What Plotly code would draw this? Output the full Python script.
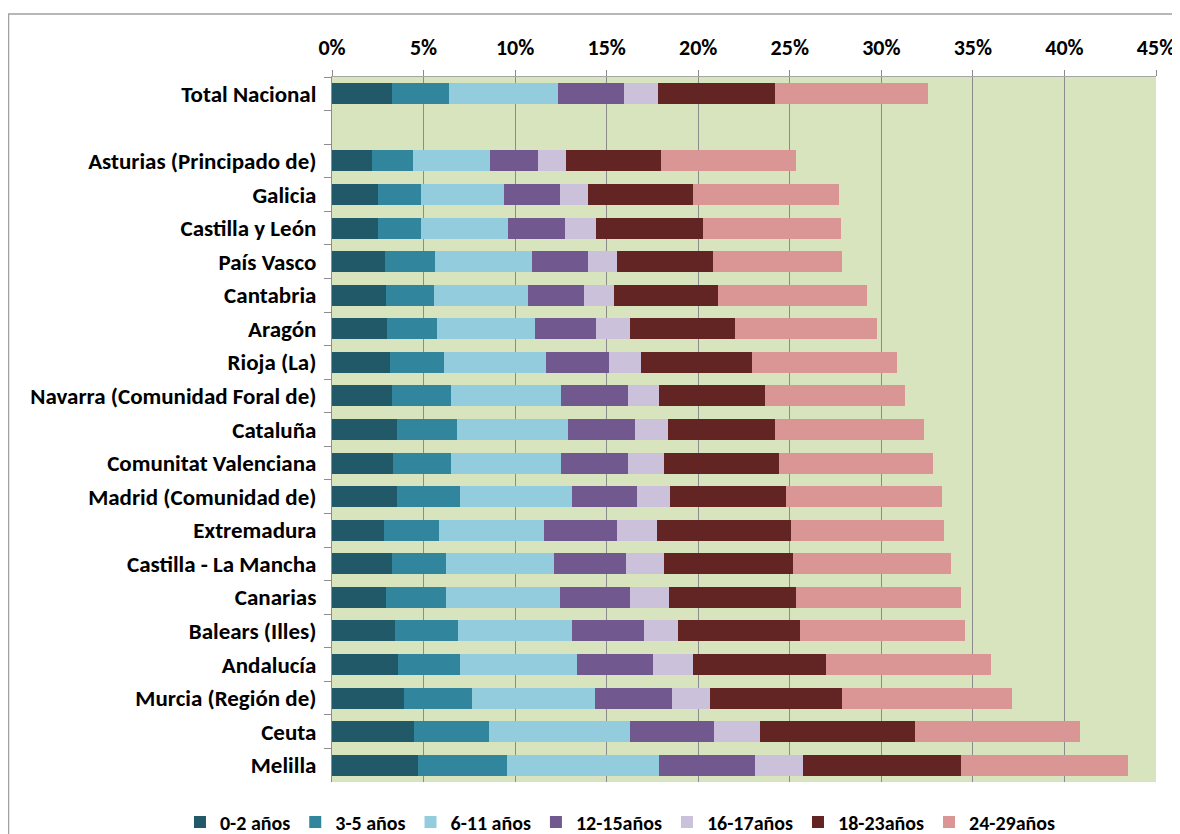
import plotly.graph_objects as go

# regions top to bottom; the blank entry is the empty row under the national total
regions = ["Total Nacional", " ", "Asturias (Principado de)", "Galicia", "Castilla y León",
           "País Vasco", "Cantabria", "Aragón", "Rioja (La)", "Navarra (Comunidad Foral de)",
           "Cataluña", "Comunitat Valenciana", "Madrid (Comunidad de)", "Extremadura",
           "Castilla - La Mancha", "Canarias", "Balears (Illes)", "Andalucía",
           "Murcia (Región de)", "Ceuta", "Melilla"]

age_groups = ["0-2 años", "3-5 años", "6-11 años", "12-15años", "16-17años", "18-23años", "24-29años"]

# share of population (%) per age group, same order as regions
g_0_2 = [3.27, None, 2.20, 2.51, 2.51, 2.88, 2.94, 2.99, 3.16, 3.26, 3.55, 3.33, 3.55, 2.84, 3.26, 2.95, 3.44, 3.61, 3.93, 4.46, 4.69]
g_3_5 = [3.10, None, 2.22, 2.33, 2.33, 2.74, 2.62, 2.74, 2.96, 3.23, 3.27, 3.16, 3.43, 3.01, 2.96, 3.27, 3.43, 3.36, 3.71, 4.14, 4.85]
g_6_11 = [5.95, None, 4.21, 4.53, 4.75, 5.28, 5.13, 5.34, 5.56, 5.99, 6.06, 5.99, 6.10, 5.71, 5.88, 6.21, 6.21, 6.39, 6.74, 7.65, 8.31]
g_12_15 = [3.61, None, 2.62, 3.06, 3.13, 3.10, 3.06, 3.33, 3.47, 3.67, 3.65, 3.71, 3.60, 3.99, 3.93, 3.87, 3.94, 4.18, 4.21, 4.62, 5.27]
g_16_17 = [1.90, None, 1.52, 1.57, 1.68, 1.54, 1.64, 1.85, 1.75, 1.69, 1.80, 1.92, 1.80, 2.18, 2.08, 2.12, 1.85, 2.19, 2.08, 2.51, 2.61]
g_18_23 = [6.37, None, 5.19, 5.74, 5.84, 5.24, 5.71, 5.78, 6.01, 5.83, 5.87, 6.32, 6.32, 7.34, 7.08, 6.94, 6.69, 7.24, 7.18, 8.47, 8.61]
g_24_29 = [8.35, None, 7.39, 7.96, 7.57, 7.09, 8.13, 7.74, 7.96, 7.63, 8.13, 8.39, 8.51, 8.35, 8.61, 8.99, 9.01, 9.00, 9.29, 9.00, 9.14]

series = [g_0_2, g_3_5, g_6_11, g_12_15, g_16_17, g_18_23, g_24_29]
colors = ["#215968", "#31859C", "#93CDDD", "#71588F", "#CCC1DA", "#632523", "#D99694"]

font_family = "Carlito, Liberation Sans, Arial, sans-serif"

fig = go.Figure()
for name, vals, col in zip(age_groups, series, colors):
    fig.add_trace(go.Bar(
        y=regions, x=vals, name=name, orientation="h",
        marker=dict(color=col, line=dict(width=0)),
    ))

# page body adds 8px margin, so the figure is shifted by 8px in the window
# (the bottom of the figure runs past the window, the legend stays inside)
fig.update_layout(
    width=1172, height=850,
    barmode="stack",
    bargap=0.375,
    paper_bgcolor="white",
    plot_bgcolor="#D8E4BD",
    margin=dict(l=324, r=24, t=69, b=76),
    font=dict(family=font_family, size=20, color="black", weight=700),
    showlegend=True,
    # anchored left of the plot area so the single row may use the left margin
    legend=dict(orientation="h", x=-0.1845, xanchor="left",
                y=-0.0567, yanchor="middle",
                font=dict(family=font_family, size=20, color="black", weight=700),
                traceorder="normal", itemwidth=30, bgcolor="rgba(0,0,0,0)"),
)

fig.update_xaxes(
    side="top", range=[0, 45], tick0=0, dtick=5, ticksuffix="%",
    showgrid=True, gridcolor="#8C8C8C", gridwidth=1,
    showline=True, linecolor="#A6A6A6", linewidth=1, mirror=False,
    ticks="outside", ticklen=6, tickcolor="#8C8C8C", ticklabelstandoff=6,
    ticklabeloverflow="allow", automargin=False,
    tickfont=dict(family=font_family, size=22, color="black", weight=700),
    zeroline=False, fixedrange=True,
)
fig.update_yaxes(
    categoryorder="array", categoryarray=regions, autorange="reversed",
    showgrid=False, showline=True, linecolor="#8C8C8C", linewidth=1,
    ticks="outside", ticklen=7, tickcolor="#8C8C8C", tickson="boundaries",
    ticklabelstandoff=10, automargin=False,
    tickfont=dict(family=font_family, size=23, color="black", weight=700),
    fixedrange=True,
)

# chart area border (runs off the right and bottom of the picture)
fig.add_shape(type="rect", xref="paper", yref="paper",
              x0=-0.3926, x1=1.05, y0=-0.12, y1=1.0894,
              line=dict(color="#A0A0A0", width=1.5), fillcolor="rgba(0,0,0,0)", layer="below")

fig.write_html("out.html")
